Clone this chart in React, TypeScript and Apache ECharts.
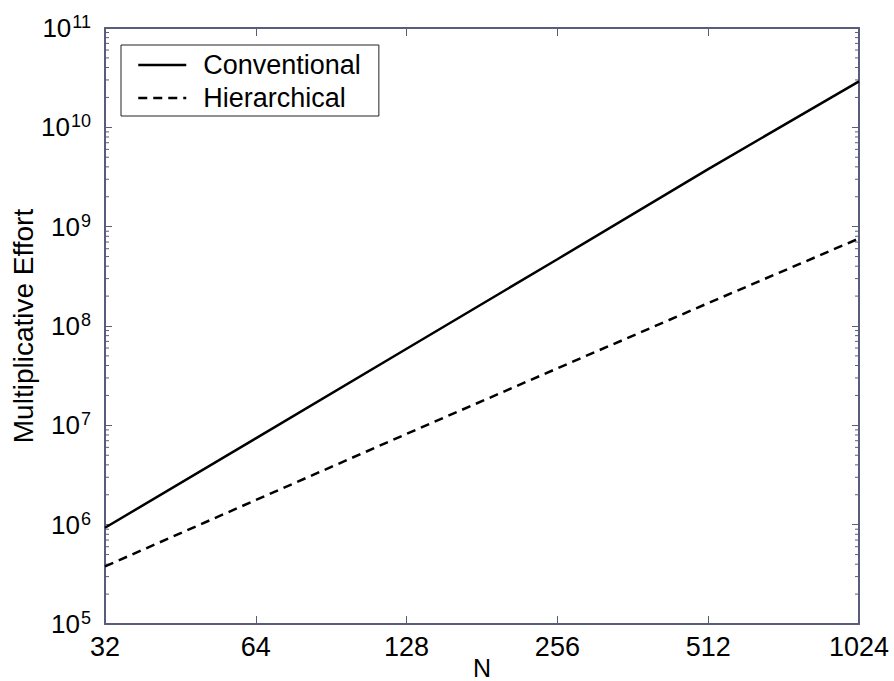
import React, { useEffect, useRef } from "react";
import * as echarts from "echarts";

const nValues = [32, 64, 128, 256, 512, 1024];
const conventional = [9.3e5, 7.4e6, 5.9e7, 4.7e8, 3.8e9, 2.9e10];
const hierarchical = [3.8e5, 1.77e6, 8.2e6, 3.75e7, 1.7e8, 7.6e8];
const yDecades = [5, 6, 7, 8, 9, 10];
const yMinorMultipliers = [2, 3, 4, 5, 6, 7, 8, 9];
const seriesNames = ["Conventional", "Hierarchical"];

const FRAME = "#5a5c7c";
const FONT = "Liberation Sans, Arial, Helvetica, sans-serif";

export default function App() {
  const ref = useRef<HTMLDivElement>(null);
  useEffect(() => {
    if (!ref.current) return;
    const chart = echarts.init(ref.current, undefined, { renderer: "svg" });
    const minorTicks: number[] = [];
    yDecades.forEach((d) =>
      yMinorMultipliers.forEach((m) => minorTicks.push(m * Math.pow(10, d)))
    );
    const axisCommonY = {
      type: "log" as const,
      logBase: 10,
      min: 1e5,
      max: 1e11,
      splitLine: { show: false },
      axisLine: { show: true, lineStyle: { color: FRAME, width: 2 } },
      axisTick: { show: true, inside: true, length: 7, lineStyle: { color: FRAME, width: 1 } },
    };
    const axisCommonX = {
      type: "log" as const,
      logBase: 2,
      min: 32,
      max: 1024,
      splitNumber: 5,
      splitLine: { show: false },
      axisLine: { show: true, lineStyle: { color: FRAME, width: 2 } },
      axisTick: { show: true, inside: true, length: 8, lineStyle: { color: FRAME, width: 1 } },
    };
    chart.setOption({
      animation: false,
      backgroundColor: "#ffffff",
      textStyle: { fontFamily: FONT },
      grid: { left: 105, right: 35, top: 28, bottom: 57, containLabel: false, outerBoundsMode: "none" },
      legend: {
        data: seriesNames,
        orient: "vertical",
        left: 121,
        top: 45,
        padding: [5, 18, 3, 16],
        borderColor: "#222",
        borderWidth: 1,
        backgroundColor: "#fff",
        itemWidth: 48,
        itemHeight: 14,
        itemGap: 3,
        itemStyle: { opacity: 0 },
        lineStyle: { width: 2.5, color: "#000" },
        textStyle: {
          fontSize: 27,
          lineHeight: 30,
          color: "#000",
          fontFamily: FONT,
          padding: [0, 0, 0, 12],
        },
      },
      xAxis: [
        {
          ...axisCommonX,
          position: "bottom",
          name: "N",
          nameLocation: "middle",
          nameGap: 32,
          nameMoveOverlap: false,
          nameTextStyle: { fontSize: 25, color: "#000", fontFamily: FONT, lineHeight: 24 },
          axisLabel: {
            show: true,
            margin: 9,
            fontSize: 27,
            color: "#000",
            fontFamily: FONT,
            formatter: (v: number) => String(Math.round(v)),
          },
        },
        {
          ...axisCommonX,
          position: "top",
          axisLabel: { show: false },
        },
      ],
      yAxis: [
        {
          ...axisCommonY,
          position: "left",
          name: "Multiplicative Effort",
          nameLocation: "middle",
          nameGap: 68,
          nameMoveOverlap: false,
          nameTextStyle: { fontSize: 28, color: "#000", fontFamily: FONT },
          axisLabel: {
            show: true,
            margin: 14,
            color: "#000",
            formatter: (v: number) => `{b|10}{s|${Math.round(Math.log10(v))}}`,
            rich: {
              b: { fontSize: 26, color: "#000", fontFamily: FONT, lineHeight: 30 },
              s: { fontSize: 18, color: "#000", fontFamily: FONT, verticalAlign: "top", lineHeight: 18, padding: [0, 0, 14, 1] },
            },
          },
        },
        {
          ...axisCommonY,
          position: "right",
          axisLabel: { show: false },
        },
      ],
      series: [
        {
          name: seriesNames[0],
          type: "line",
          data: nValues.map((n, i) => [n, conventional[i]]),
          symbol: "none",
          lineStyle: { color: "#000", width: 2.5, type: "solid" },
          itemStyle: { color: "#000" },
        },
        {
          name: seriesNames[1],
          type: "line",
          data: nValues.map((n, i) => [n, hierarchical[i]]),
          symbol: "none",
          lineStyle: { color: "#000", width: 2.5, type: [9, 6] },
          itemStyle: { color: "#000" },
        },
        {
          type: "custom",
          silent: true,
          clip: false,
          data: minorTicks.map((v) => [32, v]),
          renderItem: (params: any, api: any) => {
            const v = api.value(1);
            const l = api.coord([32, v]);
            const r = api.coord([1024, v]);
            return {
              type: "group",
              children: [
                { type: "line", shape: { x1: l[0], y1: l[1], x2: l[0] + 4, y2: l[1] }, style: { stroke: FRAME, lineWidth: 1 } },
                { type: "line", shape: { x1: r[0], y1: r[1], x2: r[0] - 4, y2: r[1] }, style: { stroke: FRAME, lineWidth: 1 } },
              ],
            };
          },
        },
      ],
    });
    return () => chart.dispose();
  }, []);
  return <div ref={ref} style={{ width: 894, height: 681, position: "absolute", left: 0, top: 0 }} />;
}
